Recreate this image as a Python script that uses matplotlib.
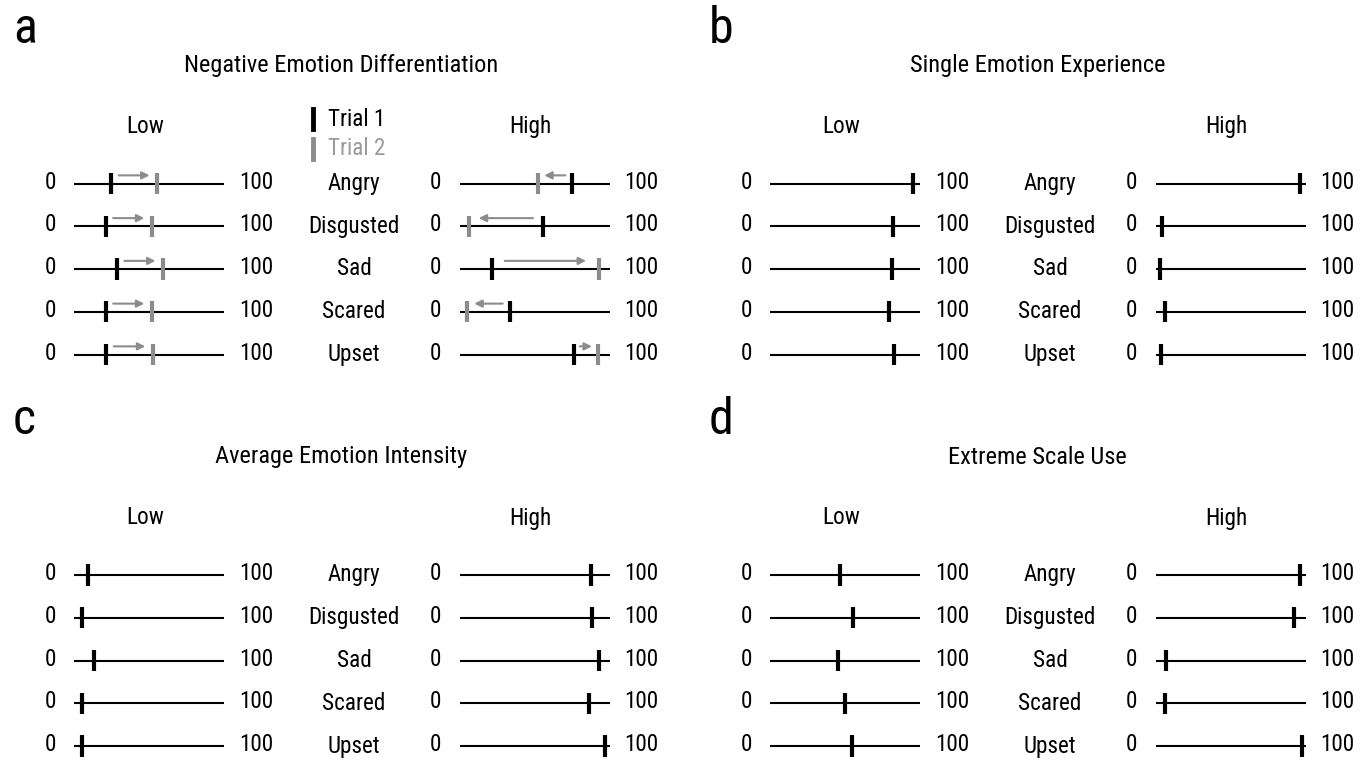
import numpy as np
import matplotlib
matplotlib.use("Agg")
from matplotlib import pyplot as plt
from matplotlib import font_manager
from matplotlib.textpath import TextPath

# data (0-100 rating scale)
emotions = ['Angry', 'Disgusted', 'Sad', 'Scared', 'Upset']

ned_low_t1 = [24.7, 21.0, 28.4, 21.0, 21.3]
ned_low_t2 = [55.5, 52.0, 59.5, 52.0, 52.7]
ned_high_t1 = [75.1, 55.6, 21.8, 33.8, 76.2]
ned_high_t2 = [52.0, 6.2, 92.7, 4.9, 92.2]

see_low = [95.1, 81.8, 81.6, 79.1, 82.7]
see_high = [96.4, 4.2, 3.3, 6.5, 3.8]

aei_low = [9.3, 5.3, 13.1, 5.3, 5.6]
aei_high = [87.8, 88.2, 92.7, 86.0, 97.1]

esu_low = [46.9, 55.6, 45.6, 50.0, 54.9]
esu_high = [96.4, 92.6, 6.7, 6.0, 97.5]

panel_letters = ['a', 'b', 'c', 'd']
panel_titles = ['Negative Emotion Differentiation', 'Single Emotion Experience',
                'Average Emotion Intensity', 'Extreme Scale Use']
group_names = ['Low', 'High']
trial_names = ['Trial 1', 'Trial 2']


# the original uses a condensed grotesque; take a narrow face if one is installed
def pick_font():
    cands = []
    for f in font_manager.fontManager.ttflist:
        n = (f.name + ' ' + f.fname).lower()
        if any(k in n for k in ('mono', 'serif', 'bold', 'italic', 'oblique', 'light', 'black', 'thin', 'medium')):
            continue
        if 'narrow' in n or 'condensed' in n or f.stretch in ('condensed', 'semi-condensed'):
            cands.append(f.fname)
    for key in ('liberationsansnarrow', 'robotocondensed', 'dejavusanscondensed', 'condensed'):
        for c in cands:
            if key in c.lower().replace('-', '').replace('_', ''):
                return font_manager.FontProperties(fname=c)
    return font_manager.FontProperties(family='Liberation Sans')


FP = pick_font()


def fit_size(s, px_width):
    w100 = TextPath((0, 0), s, size=100, prop=FP).get_extents().width
    return px_width * 72 / w100


FS = fit_size('Disgusted', 88)
FS_TITLE = fit_size('Negative Emotion Differentiation', 311)

W, H = 1368, 760
BLACK = '#000000'
GREY = '#8c8c8c'

fig = plt.figure(figsize=(W / 100, H / 100), dpi=100)


def fx(px):
    return px / W


def fy(py):
    return 1 - py / H


def scale_axes(x0, row0, spacing=42.75, width=150):
    top = row0 - spacing / 2
    h = spacing * 5
    ax = fig.add_axes([fx(x0), fy(top + h), width / W, h / H])
    ax.set_xlim(0, 100)
    ax.set_ylim(4.5, -0.5)
    ax.axis('off')
    rows = np.arange(len(emotions))
    ax.hlines(rows, 0, 100, color=BLACK, lw=1.5, clip_on=False)
    for r in rows:
        ax.text(-16, r - 0.03, '0', ha='center', va='center', fontproperties=FP,
                fontsize=FS, clip_on=False)
        ax.text(121.5, r - 0.03, '100', ha='center', va='center', fontproperties=FP,
                fontsize=FS, clip_on=False)
    return ax


def marks(ax, values, color):
    rows = np.arange(len(values))
    ax.vlines(values, rows - 0.25, rows + 0.25, color=color, lw=3, clip_on=False)


def arrows(ax, start, end):
    for r, (s, e) in enumerate(zip(start, end)):
        d = abs(e - s) * 1.5
        m = (4 + 0.08 * d) / 1.5
        sgn = np.sign(e - s)
        ax.annotate('', xy=(e - sgn * m, r - 0.19), xytext=(s + sgn * m, r - 0.19),
                    arrowprops=dict(arrowstyle='-|>', color=GREY, lw=1.5,
                                    mutation_scale=11, shrinkA=0, shrinkB=0),
                    annotation_clip=False)


panel_data = [
    ((ned_low_t1, ned_low_t2), (ned_high_t1, ned_high_t2)),
    ((see_low,), (see_high,)),
    ((aei_low,), (aei_high,)),
    ((esu_low,), (esu_high,)),
]
offsets = [(0, 0), (696, 0), (0, 391.5), (696, 391.5)]

for i, (dx, dy) in enumerate(offsets):
    row0 = 183.5 + dy
    fig.text(fx(13 + dx), fy(43 + dy), panel_letters[i], fontproperties=FP,
             fontsize=36, ha='left', va='baseline')
    fig.text(fx(341.5 + dx), fy(72 + dy), panel_titles[i], fontproperties=FP,
             fontsize=FS_TITLE, ha='center', va='baseline')
    fig.text(fx(145 + dx), fy(133 + dy), group_names[0], fontproperties=FP,
             fontsize=FS, ha='center', va='baseline')
    fig.text(fx(530 + dx), fy(133 + dy), group_names[1], fontproperties=FP,
             fontsize=FS, ha='center', va='baseline')
    for r, emo in enumerate(emotions):
        fig.text(fx(354 + dx), fy(row0 + r * 42.75), emo, fontproperties=FP,
                 fontsize=FS, ha='center', va='center')

    low, high = panel_data[i]
    for x0, series in ((74 + dx, low), (459.5 + dx, high)):
        ax = scale_axes(x0, row0)
        if len(series) == 2:
            arrows(ax, series[0], series[1])
            marks(ax, series[1], GREY)
        marks(ax, series[0], BLACK)

# legend for panel a
for y, name, col, tcol in ((119, trial_names[0], BLACK, BLACK),
                           (148.5, trial_names[1], GREY, '#9a9a9a')):
    fig.add_artist(plt.Line2D([fx(313), fx(313)], [fy(y - 10), fy(y + 10)],
                              color=col, lw=3.5))
    fig.text(fx(328), fy(y), name, fontproperties=FP, fontsize=FS, color=tcol,
             ha='left', va='center')

fig.savefig('out.png', dpi=100, facecolor='white')
